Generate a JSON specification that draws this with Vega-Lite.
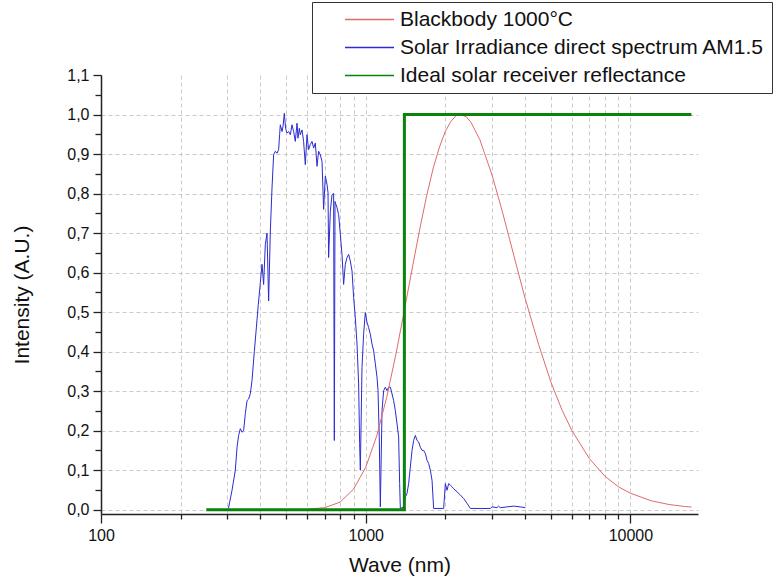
{
  "$schema": "https://vega.github.io/schema/vega-lite/v6.json",
  "autosize": {"type": "none"},
  "padding": {"left": 101, "top": 75, "right": 80, "bottom": 69},
  "width": 597,
  "height": 439,
  "background": "white",
  "config": {
    "font": "Liberation Sans",
    "view": {"stroke": null},
    "axis": {"labelFont": "Liberation Sans", "titleFont": "Liberation Sans", "labelColor": "#111", "titleColor": "#111", "titleFontWeight": "normal", "domainColor": "#222", "domainWidth": 1.5, "tickColor": "#222", "tickWidth": 1.3, "gridColor": "#bdbdbd", "gridDash": [4, 3], "gridWidth": 0.8}
  },
  "datasets": {
    "spectra": [
      {"wave": 600, "intensity": 0.001, "series": "Blackbody 1000°C"},
      {"wave": 700, "intensity": 0.005, "series": "Blackbody 1000°C"},
      {"wave": 800, "intensity": 0.019, "series": "Blackbody 1000°C"},
      {"wave": 900, "intensity": 0.052, "series": "Blackbody 1000°C"},
      {"wave": 1000, "intensity": 0.107, "series": "Blackbody 1000°C"},
      {"wave": 1100, "intensity": 0.186, "series": "Blackbody 1000°C"},
      {"wave": 1200, "intensity": 0.284, "series": "Blackbody 1000°C"},
      {"wave": 1300, "intensity": 0.393, "series": "Blackbody 1000°C"},
      {"wave": 1400, "intensity": 0.505, "series": "Blackbody 1000°C"},
      {"wave": 1500, "intensity": 0.612, "series": "Blackbody 1000°C"},
      {"wave": 1600, "intensity": 0.710, "series": "Blackbody 1000°C"},
      {"wave": 1700, "intensity": 0.795, "series": "Blackbody 1000°C"},
      {"wave": 1800, "intensity": 0.865, "series": "Blackbody 1000°C"},
      {"wave": 1900, "intensity": 0.918, "series": "Blackbody 1000°C"},
      {"wave": 2000, "intensity": 0.958, "series": "Blackbody 1000°C"},
      {"wave": 2100, "intensity": 0.983, "series": "Blackbody 1000°C"},
      {"wave": 2200, "intensity": 0.998, "series": "Blackbody 1000°C"},
      {"wave": 2276, "intensity": 1.0, "series": "Blackbody 1000°C"},
      {"wave": 2400, "intensity": 0.994, "series": "Blackbody 1000°C"},
      {"wave": 2500, "intensity": 0.980, "series": "Blackbody 1000°C"},
      {"wave": 2700, "intensity": 0.936, "series": "Blackbody 1000°C"},
      {"wave": 3000, "intensity": 0.847, "series": "Blackbody 1000°C"},
      {"wave": 3250, "intensity": 0.765, "series": "Blackbody 1000°C"},
      {"wave": 3500, "intensity": 0.683, "series": "Blackbody 1000°C"},
      {"wave": 3750, "intensity": 0.606, "series": "Blackbody 1000°C"},
      {"wave": 4000, "intensity": 0.535, "series": "Blackbody 1000°C"},
      {"wave": 4500, "intensity": 0.418, "series": "Blackbody 1000°C"},
      {"wave": 5000, "intensity": 0.324, "series": "Blackbody 1000°C"},
      {"wave": 5500, "intensity": 0.254, "series": "Blackbody 1000°C"},
      {"wave": 6000, "intensity": 0.201, "series": "Blackbody 1000°C"},
      {"wave": 7000, "intensity": 0.129, "series": "Blackbody 1000°C"},
      {"wave": 8000, "intensity": 0.085, "series": "Blackbody 1000°C"},
      {"wave": 9000, "intensity": 0.058, "series": "Blackbody 1000°C"},
      {"wave": 10000, "intensity": 0.0415, "series": "Blackbody 1000°C"},
      {"wave": 12000, "intensity": 0.0223, "series": "Blackbody 1000°C"},
      {"wave": 14000, "intensity": 0.013, "series": "Blackbody 1000°C"},
      {"wave": 16000, "intensity": 0.0081, "series": "Blackbody 1000°C"},
      {"wave": 17000, "intensity": 0.0065, "series": "Blackbody 1000°C"},

      {"wave": 303, "intensity": 0.003, "series": "Solar Irradiance direct spectrum AM1.5"},
      {"wave": 312.6, "intensity": 0.049, "series": "Solar Irradiance direct spectrum AM1.5"},
      {"wave": 321.7, "intensity": 0.10, "series": "Solar Irradiance direct spectrum AM1.5"},
      {"wave": 326.5, "intensity": 0.158, "series": "Solar Irradiance direct spectrum AM1.5"},
      {"wave": 331.1, "intensity": 0.188, "series": "Solar Irradiance direct spectrum AM1.5"},
      {"wave": 336.0, "intensity": 0.205, "series": "Solar Irradiance direct spectrum AM1.5"},
      {"wave": 341.0, "intensity": 0.196, "series": "Solar Irradiance direct spectrum AM1.5"},
      {"wave": 345.8, "intensity": 0.200, "series": "Solar Irradiance direct spectrum AM1.5"},
      {"wave": 350.9, "intensity": 0.243, "series": "Solar Irradiance direct spectrum AM1.5"},
      {"wave": 356.2, "intensity": 0.276, "series": "Solar Irradiance direct spectrum AM1.5"},
      {"wave": 361.2, "intensity": 0.280, "series": "Solar Irradiance direct spectrum AM1.5"},
      {"wave": 366.4, "intensity": 0.293, "series": "Solar Irradiance direct spectrum AM1.5"},
      {"wave": 372.0, "intensity": 0.327, "series": "Solar Irradiance direct spectrum AM1.5"},
      {"wave": 379.5, "intensity": 0.400, "series": "Solar Irradiance direct spectrum AM1.5"},
      {"wave": 386.2, "intensity": 0.460, "series": "Solar Irradiance direct spectrum AM1.5"},
      {"wave": 393.0, "intensity": 0.520, "series": "Solar Irradiance direct spectrum AM1.5"},
      {"wave": 399.9, "intensity": 0.575, "series": "Solar Irradiance direct spectrum AM1.5"},
      {"wave": 405.8, "intensity": 0.621, "series": "Solar Irradiance direct spectrum AM1.5"},
      {"wave": 411.5, "intensity": 0.570, "series": "Solar Irradiance direct spectrum AM1.5"},
      {"wave": 417.6, "intensity": 0.671, "series": "Solar Irradiance direct spectrum AM1.5"},
      {"wave": 423.8, "intensity": 0.700, "series": "Solar Irradiance direct spectrum AM1.5"},
      {"wave": 429.8, "intensity": 0.528, "series": "Solar Irradiance direct spectrum AM1.5"},
      {"wave": 436.2, "intensity": 0.705, "series": "Solar Irradiance direct spectrum AM1.5"},
      {"wave": 442.6, "intensity": 0.814, "series": "Solar Irradiance direct spectrum AM1.5"},
      {"wave": 448.9, "intensity": 0.898, "series": "Solar Irradiance direct spectrum AM1.5"},
      {"wave": 455.6, "intensity": 0.907, "series": "Solar Irradiance direct spectrum AM1.5"},
      {"wave": 462.3, "intensity": 0.902, "series": "Solar Irradiance direct spectrum AM1.5"},
      {"wave": 468.8, "intensity": 0.911, "series": "Solar Irradiance direct spectrum AM1.5"},
      {"wave": 472.9, "intensity": 0.949, "series": "Solar Irradiance direct spectrum AM1.5"},
      {"wave": 475.8, "intensity": 0.974, "series": "Solar Irradiance direct spectrum AM1.5"},
      {"wave": 482.9, "intensity": 0.957, "series": "Solar Irradiance direct spectrum AM1.5"},
      {"wave": 487.1, "intensity": 0.970, "series": "Solar Irradiance direct spectrum AM1.5"},
      {"wave": 492.6, "intensity": 1.003, "series": "Solar Irradiance direct spectrum AM1.5"},
      {"wave": 498.2, "intensity": 0.965, "series": "Solar Irradiance direct spectrum AM1.5"},
      {"wave": 504.3, "intensity": 0.953, "series": "Solar Irradiance direct spectrum AM1.5"},
      {"wave": 511.4, "intensity": 0.957, "series": "Solar Irradiance direct spectrum AM1.5"},
      {"wave": 519.0, "intensity": 0.949, "series": "Solar Irradiance direct spectrum AM1.5"},
      {"wave": 526.8, "intensity": 0.974, "series": "Solar Irradiance direct spectrum AM1.5"},
      {"wave": 534.1, "intensity": 0.957, "series": "Solar Irradiance direct spectrum AM1.5"},
      {"wave": 542.0, "intensity": 0.932, "series": "Solar Irradiance direct spectrum AM1.5"},
      {"wave": 550.2, "intensity": 0.978, "series": "Solar Irradiance direct spectrum AM1.5"},
      {"wave": 554.9, "intensity": 0.940, "series": "Solar Irradiance direct spectrum AM1.5"},
      {"wave": 561.3, "intensity": 0.965, "series": "Solar Irradiance direct spectrum AM1.5"},
      {"wave": 566.1, "intensity": 0.949, "series": "Solar Irradiance direct spectrum AM1.5"},
      {"wave": 574.6, "intensity": 0.961, "series": "Solar Irradiance direct spectrum AM1.5"},
      {"wave": 582.6, "intensity": 0.932, "series": "Solar Irradiance direct spectrum AM1.5"},
      {"wave": 591.3, "intensity": 0.873, "series": "Solar Irradiance direct spectrum AM1.5"},
      {"wave": 600.1, "intensity": 0.949, "series": "Solar Irradiance direct spectrum AM1.5"},
      {"wave": 608.5, "intensity": 0.911, "series": "Solar Irradiance direct spectrum AM1.5"},
      {"wave": 617.6, "intensity": 0.924, "series": "Solar Irradiance direct spectrum AM1.5"},
      {"wave": 626.8, "intensity": 0.932, "series": "Solar Irradiance direct spectrum AM1.5"},
      {"wave": 635.7, "intensity": 0.915, "series": "Solar Irradiance direct spectrum AM1.5"},
      {"wave": 645.1, "intensity": 0.928, "series": "Solar Irradiance direct spectrum AM1.5"},
      {"wave": 654.7, "intensity": 0.869, "series": "Solar Irradiance direct spectrum AM1.5"},
      {"wave": 663.9, "intensity": 0.907, "series": "Solar Irradiance direct spectrum AM1.5"},
      {"wave": 673.8, "intensity": 0.898, "series": "Solar Irradiance direct spectrum AM1.5"},
      {"wave": 683.8, "intensity": 0.881, "series": "Solar Irradiance direct spectrum AM1.5"},
      {"wave": 689.8, "intensity": 0.806, "series": "Solar Irradiance direct spectrum AM1.5"},
      {"wave": 693.4, "intensity": 0.760, "series": "Solar Irradiance direct spectrum AM1.5"},
      {"wave": 703.7, "intensity": 0.844, "series": "Solar Irradiance direct spectrum AM1.5"},
      {"wave": 714.2, "intensity": 0.823, "series": "Solar Irradiance direct spectrum AM1.5"},
      {"wave": 720.5, "intensity": 0.802, "series": "Solar Irradiance direct spectrum AM1.5"},
      {"wave": 724.2, "intensity": 0.638, "series": "Solar Irradiance direct spectrum AM1.5"},
      {"wave": 735.1, "intensity": 0.755, "series": "Solar Irradiance direct spectrum AM1.5"},
      {"wave": 746.0, "intensity": 0.797, "series": "Solar Irradiance direct spectrum AM1.5"},
      {"wave": 756.4, "intensity": 0.800, "series": "Solar Irradiance direct spectrum AM1.5"},
      {"wave": 761.1, "intensity": 0.175, "series": "Solar Irradiance direct spectrum AM1.5"},
      {"wave": 765.6, "intensity": 0.780, "series": "Solar Irradiance direct spectrum AM1.5"},
      {"wave": 779.2, "intensity": 0.764, "series": "Solar Irradiance direct spectrum AM1.5"},
      {"wave": 790.0, "intensity": 0.747, "series": "Solar Irradiance direct spectrum AM1.5"},
      {"wave": 801.9, "intensity": 0.697, "series": "Solar Irradiance direct spectrum AM1.5"},
      {"wave": 813.8, "intensity": 0.645, "series": "Solar Irradiance direct spectrum AM1.5"},
      {"wave": 825.2, "intensity": 0.570, "series": "Solar Irradiance direct spectrum AM1.5"},
      {"wave": 837.4, "intensity": 0.621, "series": "Solar Irradiance direct spectrum AM1.5"},
      {"wave": 850.0, "intensity": 0.638, "series": "Solar Irradiance direct spectrum AM1.5"},
      {"wave": 861.9, "intensity": 0.646, "series": "Solar Irradiance direct spectrum AM1.5"},
      {"wave": 874.7, "intensity": 0.629, "series": "Solar Irradiance direct spectrum AM1.5"},
      {"wave": 887.7, "intensity": 0.604, "series": "Solar Irradiance direct spectrum AM1.5"},
      {"wave": 900.2, "intensity": 0.537, "series": "Solar Irradiance direct spectrum AM1.5"},
      {"wave": 913.6, "intensity": 0.486, "series": "Solar Irradiance direct spectrum AM1.5"},
      {"wave": 927.2, "intensity": 0.419, "series": "Solar Irradiance direct spectrum AM1.5"},
      {"wave": 940.3, "intensity": 0.318, "series": "Solar Irradiance direct spectrum AM1.5"},
      {"wave": 948.5, "intensity": 0.167, "series": "Solar Irradiance direct spectrum AM1.5"},
      {"wave": 954.3, "intensity": 0.100, "series": "Solar Irradiance direct spectrum AM1.5"},
      {"wave": 968.3, "intensity": 0.360, "series": "Solar Irradiance direct spectrum AM1.5"},
      {"wave": 981.9, "intensity": 0.444, "series": "Solar Irradiance direct spectrum AM1.5"},
      {"wave": 996.5, "intensity": 0.499, "series": "Solar Irradiance direct spectrum AM1.5"},
      {"wave": 1011.4, "intensity": 0.474, "series": "Solar Irradiance direct spectrum AM1.5"},
      {"wave": 1025.6, "intensity": 0.461, "series": "Solar Irradiance direct spectrum AM1.5"},
      {"wave": 1040.9, "intensity": 0.444, "series": "Solar Irradiance direct spectrum AM1.5"},
      {"wave": 1056.4, "intensity": 0.419, "series": "Solar Irradiance direct spectrum AM1.5"},
      {"wave": 1071.3, "intensity": 0.402, "series": "Solar Irradiance direct spectrum AM1.5"},
      {"wave": 1087.3, "intensity": 0.369, "series": "Solar Irradiance direct spectrum AM1.5"},
      {"wave": 1103.4, "intensity": 0.335, "series": "Solar Irradiance direct spectrum AM1.5"},
      {"wave": 1113.1, "intensity": 0.301, "series": "Solar Irradiance direct spectrum AM1.5"},
      {"wave": 1125.0, "intensity": 0.184, "series": "Solar Irradiance direct spectrum AM1.5"},
      {"wave": 1135.7, "intensity": 0.007, "series": "Solar Irradiance direct spectrum AM1.5"},
      {"wave": 1152.5, "intensity": 0.251, "series": "Solar Irradiance direct spectrum AM1.5"},
      {"wave": 1168.6, "intensity": 0.301, "series": "Solar Irradiance direct spectrum AM1.5"},
      {"wave": 1186.0, "intensity": 0.310, "series": "Solar Irradiance direct spectrum AM1.5"},
      {"wave": 1203.8, "intensity": 0.301, "series": "Solar Irradiance direct spectrum AM1.5"},
      {"wave": 1220.6, "intensity": 0.310, "series": "Solar Irradiance direct spectrum AM1.5"},
      {"wave": 1238.8, "intensity": 0.310, "series": "Solar Irradiance direct spectrum AM1.5"},
      {"wave": 1257.4, "intensity": 0.293, "series": "Solar Irradiance direct spectrum AM1.5"},
      {"wave": 1274.9, "intensity": 0.276, "series": "Solar Irradiance direct spectrum AM1.5"},
      {"wave": 1293.8, "intensity": 0.251, "series": "Solar Irradiance direct spectrum AM1.5"},
      {"wave": 1313.3, "intensity": 0.217, "series": "Solar Irradiance direct spectrum AM1.5"},
      {"wave": 1331.6, "intensity": 0.184, "series": "Solar Irradiance direct spectrum AM1.5"},
      {"wave": 1343.3, "intensity": 0.066, "series": "Solar Irradiance direct spectrum AM1.5"},
      {"wave": 1351.4, "intensity": 0.003, "series": "Solar Irradiance direct spectrum AM1.5"},
      {"wave": 1390.8, "intensity": 0.007, "series": "Solar Irradiance direct spectrum AM1.5"},
      {"wave": 1411.5, "intensity": 0.032, "series": "Solar Irradiance direct spectrum AM1.5"},
      {"wave": 1432.4, "intensity": 0.041, "series": "Solar Irradiance direct spectrum AM1.5"},
      {"wave": 1452.7, "intensity": 0.066, "series": "Solar Irradiance direct spectrum AM1.5"},
      {"wave": 1474.3, "intensity": 0.108, "series": "Solar Irradiance direct spectrum AM1.5"},
      {"wave": 1496.2, "intensity": 0.150, "series": "Solar Irradiance direct spectrum AM1.5"},
      {"wave": 1517.3, "intensity": 0.175, "series": "Solar Irradiance direct spectrum AM1.5"},
      {"wave": 1539.8, "intensity": 0.188, "series": "Solar Irradiance direct spectrum AM1.5"},
      {"wave": 1562.7, "intensity": 0.175, "series": "Solar Irradiance direct spectrum AM1.5"},
      {"wave": 1584.8, "intensity": 0.171, "series": "Solar Irradiance direct spectrum AM1.5"},
      {"wave": 1608.3, "intensity": 0.158, "series": "Solar Irradiance direct spectrum AM1.5"},
      {"wave": 1632.2, "intensity": 0.150, "series": "Solar Irradiance direct spectrum AM1.5"},
      {"wave": 1655.3, "intensity": 0.150, "series": "Solar Irradiance direct spectrum AM1.5"},
      {"wave": 1679.9, "intensity": 0.142, "series": "Solar Irradiance direct spectrum AM1.5"},
      {"wave": 1704.8, "intensity": 0.125, "series": "Solar Irradiance direct spectrum AM1.5"},
      {"wave": 1728.6, "intensity": 0.117, "series": "Solar Irradiance direct spectrum AM1.5"},
      {"wave": 1754.6, "intensity": 0.100, "series": "Solar Irradiance direct spectrum AM1.5"},
      {"wave": 1780.6, "intensity": 0.074, "series": "Solar Irradiance direct spectrum AM1.5"},
      {"wave": 1805.4, "intensity": 0.003, "series": "Solar Irradiance direct spectrum AM1.5"},
      {"wave": 1969.9, "intensity": 0.003, "series": "Solar Irradiance direct spectrum AM1.5"},
      {"wave": 1999.2, "intensity": 0.066, "series": "Solar Irradiance direct spectrum AM1.5"},
      {"wave": 2028.9, "intensity": 0.049, "series": "Solar Irradiance direct spectrum AM1.5"},
      {"wave": 2057.6, "intensity": 0.066, "series": "Solar Irradiance direct spectrum AM1.5"},
      {"wave": 2088.3, "intensity": 0.062, "series": "Solar Irradiance direct spectrum AM1.5"},
      {"wave": 2119.3, "intensity": 0.058, "series": "Solar Irradiance direct spectrum AM1.5"},
      {"wave": 2149.3, "intensity": 0.053, "series": "Solar Irradiance direct spectrum AM1.5"},
      {"wave": 2213.6, "intensity": 0.045, "series": "Solar Irradiance direct spectrum AM1.5"},
      {"wave": 2278.3, "intensity": 0.037, "series": "Solar Irradiance direct spectrum AM1.5"},
      {"wave": 2344.8, "intensity": 0.028, "series": "Solar Irradiance direct spectrum AM1.5"},
      {"wave": 2414.8, "intensity": 0.016, "series": "Solar Irradiance direct spectrum AM1.5"},
      {"wave": 2485.3, "intensity": 0.003, "series": "Solar Irradiance direct spectrum AM1.5"},
      {"wave": 2956, "intensity": 0.003, "series": "Solar Irradiance direct spectrum AM1.5"},
      {"wave": 3000, "intensity": 0.007, "series": "Solar Irradiance direct spectrum AM1.5"},
      {"wave": 3133, "intensity": 0.005, "series": "Solar Irradiance direct spectrum AM1.5"},
      {"wave": 3177, "intensity": 0.009, "series": "Solar Irradiance direct spectrum AM1.5"},
      {"wave": 3225, "intensity": 0.005, "series": "Solar Irradiance direct spectrum AM1.5"},
      {"wave": 3419, "intensity": 0.007, "series": "Solar Irradiance direct spectrum AM1.5"},
      {"wave": 3622, "intensity": 0.009, "series": "Solar Irradiance direct spectrum AM1.5"},
      {"wave": 3838, "intensity": 0.007, "series": "Solar Irradiance direct spectrum AM1.5"},
      {"wave": 4009, "intensity": 0.005, "series": "Solar Irradiance direct spectrum AM1.5"},

      {"wave": 250, "intensity": 0, "series": "Ideal solar receiver reflectance"},
      {"wave": 1399.5, "intensity": 0, "series": "Ideal solar receiver reflectance"},
      {"wave": 1400, "intensity": 1, "series": "Ideal solar receiver reflectance"},
      {"wave": 17000, "intensity": 1, "series": "Ideal solar receiver reflectance"}
    ]
  },
  "data": {"name": "spectra"},
  "encoding": {
    "x": {
      "field": "wave",
      "type": "quantitative",
      "scale": {"type": "log", "domain": [100, 18000], "nice": false},
      "axis": {
        "title": "Wave (nm)",
        "titleFontSize": 21,
        "titlePadding": 11,
        "labelFontSize": 16,
        "labelPadding": 4,
        "format": "d",
        "values": [100, 200, 300, 400, 500, 600, 700, 800, 900, 1000, 2000, 3000, 4000, 5000, 6000, 7000, 8000, 9000, 10000],
        "labelExpr": "(datum.value == 100 || datum.value == 1000 || datum.value == 10000) ? datum.label : ''",
        "tickSize": {"condition": {"test": "datum.value == 100 || datum.value == 1000 || datum.value == 10000", "value": 9}, "value": 5},
        "grid": true,
        "labelFlush": false,
        "labelOverlap": false
      }
    },
    "y": {
      "field": "intensity",
      "type": "quantitative",
      "scale": {"domain": [-0.011, 1.1], "nice": false, "zero": false},
      "axis": {
        "title": "Intensity (A.U.)",
        "titleFontSize": 21,
        "titlePadding": 34,
        "labelFontSize": 16,
        "labelPadding": 4,
        "values": [0, 0.05, 0.1, 0.15, 0.2, 0.25, 0.3, 0.35, 0.4, 0.45, 0.5, 0.55, 0.6, 0.65, 0.7, 0.75, 0.8, 0.85, 0.9, 0.95, 1.0, 1.05, 1.1],
        "labelExpr": "abs(datum.value * 10 - round(datum.value * 10)) < 0.001 ? replace(format(datum.value, '.1f'), '.', ',') : ''",
        "tickSize": {"condition": {"test": "abs(datum.value * 10 - round(datum.value * 10)) < 0.001", "value": 8}, "value": 6},
        "gridOpacity": {"condition": {"test": "abs(datum.value * 10 - round(datum.value * 10)) < 0.001 && datum.value < 1.05", "value": 1}, "value": 0},
        "grid": true,
        "labelOverlap": false,
        "labelFlush": false
      }
    },
    "color": {
      "field": "series",
      "type": "nominal",
      "scale": {
        "domain": ["Blackbody 1000°C", "Solar Irradiance direct spectrum AM1.5", "Ideal solar receiver reflectance"],
        "range": ["#e06a6a", "#2b2bd0", "#0a830a"]
      },
      "legend": {
        "title": null,
        "orient": "none",
        "legendX": 211,
        "legendY": -73,
        "symbolType": "stroke",
        "symbolSize": 2401,
        "clipHeight": 21,
        "symbolStrokeWidth": 1.5,
        "labelFontSize": 21,
        "labelFont": "Liberation Sans",
        "labelColor": "#111",
        "labelLimit": 600,
        "rowPadding": 6,
        "padding": 7,
        "symbolOffset": 25,
        "labelOffset": 5,
        "strokeColor": "#333",
        "fillColor": "white"
      }
    }
  },
  "layer": [
    {
      "transform": [{"filter": "datum.series == 'Solar Irradiance direct spectrum AM1.5'"}],
      "mark": {"type": "line", "strokeWidth": 1}
    },
    {
      "transform": [{"filter": "datum.series == 'Blackbody 1000°C'"}],
      "mark": {"type": "line", "strokeWidth": 1}
    },
    {
      "transform": [{"filter": "datum.series == 'Ideal solar receiver reflectance'"}],
      "mark": {"type": "line", "strokeWidth": 3}
    }
  ]
}
